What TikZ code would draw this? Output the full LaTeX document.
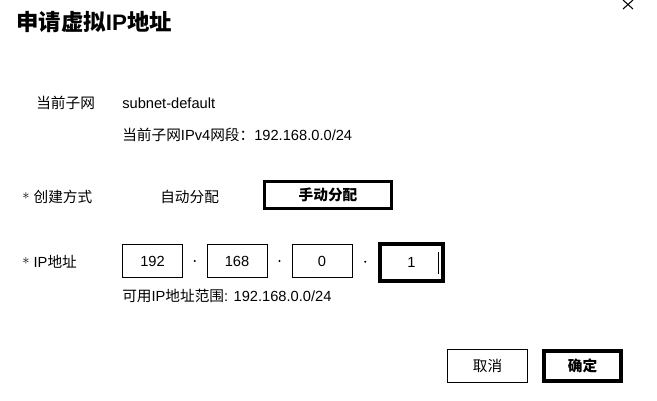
\documentclass[tikz,border=0pt]{standalone}
\usepackage{fontspec}
\setmainfont{Liberation Sans}
\newfontfamily\zhfont{Noto Sans CJK SC}
\newcommand{\zh}[1]{{\zhfont #1}}
\newcommand{\reqmark}{\raisebox{0.45ex}{$\ast$}}

\begin{document}
\begin{tikzpicture}[x=0.75pt, y=-0.75pt,
  txt/.style={anchor=west, inner sep=0pt, font=\fontsize{11}{13}\selectfont},
  ipbox/.style={draw, line width=0.75pt, minimum width=45pt, minimum height=24.75pt, inner sep=0pt, font=\fontsize{11}{13}\selectfont},
  ipfocus/.style={ipbox, line width=3pt, minimum width=47.25pt, minimum height=27.75pt},
  btn/.style={draw, line width=0.75pt, minimum width=60pt, minimum height=24.75pt, inner sep=0pt, font=\fontsize{11}{13}\selectfont\zhfont},
  btnsel/.style={btn, line width=3pt, minimum width=57.75pt, minimum height=22.5pt, font=\fontsize{11}{13}\selectfont\zhfont\bfseries},
  sepdot/.style={circle, fill, inner sep=0pt, minimum size=1.6pt}]

\useasboundingbox (0,0) rectangle (657,400);

\node[anchor=west, inner sep=0pt, font=\fontsize{16.8}{20}\selectfont\bfseries] (title) at (16,22) {\zh{申请虚拟}IP\zh{地址}};
\draw[line width=0.8pt] (623,0) -- (633,9);
\draw[line width=0.8pt] (633,0) -- (623,9);

\node[txt] (subnetlbl) at (36,103) {\zh{当前子网}};
\node[txt] (subnet) at (122,103) {subnet-default};
\node[txt] (cidr) at (122,135) {\zh{当前子网}IPv4\zh{网段：}192.168.0.0/24};

\node[txt] (modelbl) at (22,197) {\reqmark\ \zh{创建方式}};
\node[txt] (auto) at (160,197) {\zh{自动分配}};
\node[btnsel, line width=2.25pt, minimum width=95.25pt, minimum height=20.25pt] (manual) at (328,195) {手动分配};

\node[txt] (iplbl) at (22,262) {\reqmark\ IP\zh{地址}};
\node[ipbox] (oct1) at (152.5,261) {192};
\node[ipbox] (oct2) at (237,261) {168};
\node[ipbox] (oct3) at (322,261) {0};
\node[ipfocus] (oct4) at (411.5,262.5) {1};
\path (oct1.east) -- (oct2.west) node[midway, sepdot] (dot1) {};
\path (oct2.east) -- (oct3.west) node[midway, sepdot] (dot2) {};
\path (oct3.east) -- (oct4.west) node[midway, sepdot] (dot3) {};
\draw[line width=0.75pt] (438,252) -- (438,274);

\node[txt] (range) at (122,296) {\zh{可用}IP\zh{地址范围}: 192.168.0.0/24};

\node[btn] (cancel) at (487.5,366) {取消};
\node[btnsel] (ok) at (582.5,366) {确定};

\end{tikzpicture}
\end{document}
